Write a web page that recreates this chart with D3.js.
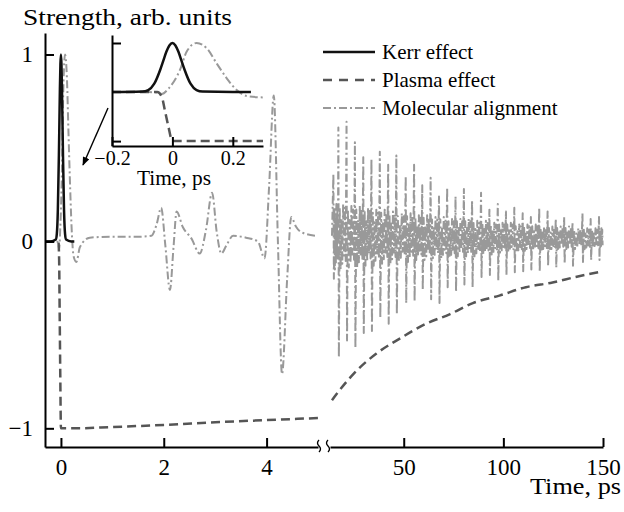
<!DOCTYPE html>
<html>
<head>
<meta charset="utf-8">
<script src="https://cdnjs.cloudflare.com/ajax/libs/d3/7.8.5/d3.min.js"></script>
<style>
  body { margin: 0; background: #fff; }
  svg { display: block; font-family: "Liberation Serif", "Times New Roman", serif; }
</style>
</head>
<body>
<script>
// series names for the legend
var seriesNames = ["Kerr effect", "Plasma effect", "Molecular alignment"];

// tick values
var xTicksLeft = [0, 2, 4];
var xTicksRight = [50, 100, 150];
var yTicks = [-1, 0, 1];
var insetXTicks = [-0.2, 0, 0.2];
var insetXLabels = ["\u22120.2", "0", "0.2"];
var insetYTicks = [-1, 1];

var kerrT = [-0.3, -0.2, -0.1, -0.08, -0.06, -0.04, -0.03, -0.02, -0.01, 0, 0.01, 0.02, 0.03, 0.04, 0.06, 0.08, 0.1, 0.2, 0.26];
var kerrV = [0, 0, 0.01, 0.04, 0.17, 0.46, 0.64, 0.82, 0.95, 1, 0.95, 0.82, 0.64, 0.46, 0.17, 0.04, 0.01, 0, 0];

// plasma effect, first 5 ps
var plasmaT = [-0.3, -0.2, -0.05, -0.035, -0.025, -0.013, 0, 0.3, 1, 2, 3, 4, 5];
var plasmaV = [0, 0, 0, -0.1, -0.37, -0.71, -1, -1, -0.993, -0.982, -0.968, -0.956, -0.945];
// plasma effect, 14-150 ps
var plasmaRT = [14, 16.3, 24.7, 36.3, 48, 61.3, 73, 84.7, 98, 111.3, 124.7, 136.3, 150];
var plasmaRV = [-0.85, -0.817, -0.71, -0.6, -0.52, -0.44, -0.39, -0.33, -0.29, -0.245, -0.22, -0.19, -0.16];

// molecular alignment, first 5 ps
var molT = [-0.3, -0.2, -0.08, -0.05, -0.035, -0.013, 0.025, 0.047, 0.08, 0.114, 0.147, 0.18, 0.213, 0.246, 0.3,
            0.37, 0.56, 1.0, 1.5, 1.76, 1.86, 1.95, 2.03, 2.12, 2.19, 2.25, 2.37, 2.54, 2.7, 2.82, 2.94, 3.03, 3.12, 3.22, 3.35,
            3.6, 3.83, 3.96, 4.05, 4.14, 4.22, 4.3, 4.4, 4.48, 4.57, 4.67, 4.96];
var molV = [0, 0, 0, -0.01, -0.04, 0.07, 0.45, 0.82, 1.0, 0.89, 0.58, 0.28, 0.04, -0.08, -0.11,
            -0.03, 0.02, 0.025, 0.025, 0.03, 0.09, 0.18, -0.02, -0.26, -0.03, 0.16, 0.077, 0.015, -0.065, 0.06, 0.26, 0.05, -0.065, -0.02, 0.03,
            0.02, 0, -0.09, 0.3, 0.78, 0, -0.71, -0.2, 0.13, 0.08, 0.05, 0.03];

// molecular alignment, 14-150 ps: revival spikes and the dense band between them
var revT  = [14.7, 17.2, 21.3, 25.5, 29.7, 33.8, 38, 42.2, 46.3, 51, 55.2, 59.3, 63.5, 67.7, 71.8, 76, 80.2,
             84.3, 88.8, 93, 97.2, 101.3, 105.5, 109.7, 113.8, 118, 122.2, 126.3, 130.5, 134.7, 139.7, 143.8, 148];
var revHi = [0.36, 0.61, 0.64, 0.53, 0.45, 0.44, 0.48, 0.41, 0.46, 0.35, 0.41, 0.3, 0.34, 0.24, 0.29, 0.24, 0.28,
             0.22, 0.26, 0.17, 0.2, 0.16, 0.18, 0.15, 0.13, 0.18, 0.16, 0.12, 0.13, 0.1, 0.15, 0.12, 0.13];
var revLo = [-0.2, -0.62, -0.53, -0.57, -0.49, -0.48, -0.41, -0.44, -0.39, -0.33, -0.32, -0.26, -0.31, -0.33, -0.245, -0.27, -0.23,
             -0.245, -0.19, -0.18, -0.21, -0.18, -0.165, -0.16, -0.15, -0.16, -0.13, -0.14, -0.12, -0.13, -0.11, -0.1, -0.1];
var bandHi = [0.2, 0.2, 0.19, 0.19, 0.18, 0.17, 0.17, 0.16, 0.15, 0.15, 0.14, 0.14, 0.13, 0.13, 0.12, 0.12, 0.12,
              0.11, 0.11, 0.1, 0.1, 0.1, 0.09, 0.09, 0.09, 0.08, 0.08, 0.08, 0.08, 0.07, 0.07, 0.07, 0.07];
var bandLo = [-0.15, -0.15, -0.14, -0.14, -0.13, -0.13, -0.12, -0.12, -0.11, -0.11, -0.1, -0.1, -0.09, -0.09, -0.09, -0.08, -0.08,
              -0.08, -0.07, -0.07, -0.06, -0.06, -0.06, -0.05, -0.05, -0.05, -0.05, -0.04, -0.04, -0.04, -0.04, -0.03, -0.03];
var wiggle = [0.9, 1, 0.6, 0.8, 1, 0.5, 0.9, 0.7];

var colors = {kerr: "#111", plasma: "#555", mol: "#999"};
var dashPlasma = "9,5", dashMol = "8,3,2,3";

function zip(T, V) { return T.map(function(t, i) { return [t, V[i]]; }); }

var svg = d3.select("body").append("svg")
    .attr("width", 624)
    .attr("height", 512);

// main scales: broken time axis
var xL = d3.scaleLinear().domain([-0.31, 5.0]).range([45, 318]);
var xR = d3.scaleLinear().domain([13, 150]).range([330, 603]);
var y = d3.scaleLinear().domain([-1.1, 1.115]).range([447, 33]);

// inset scales
var xIn = d3.scaleLinear().domain([-0.2, 0.3]).range([112, 263]);
var yIn = d3.scaleLinear().domain([-1.1, 1.163]).range([146, 35]);

var lineL = d3.line().x(function(d) { return xL(d[0]); }).y(function(d) { return y(d[1]); }).curve(d3.curveMonotoneX);
var lineR = d3.line().x(function(d) { return xR(d[0]); }).y(function(d) { return y(d[1]); }).curve(d3.curveMonotoneX);
var lineRlin = d3.line().x(function(d) { return xR(d[0]); }).y(function(d) { return y(d[1]); });
var lineIn = d3.line().x(function(d) { return xIn(d[0]); }).y(function(d) { return yIn(d[1]); }).curve(d3.curveMonotoneX);

// build the dense molecular trace after the break from the read values
var molR = [[14, 0.03]];
revT.forEach(function(t, i) {
  molR.push([t, revHi[i]]);
  molR.push([t + 0.25, revLo[i]]);
  var next = i < revT.length - 1 ? revT[i + 1] : 150;
  var n = wiggle.length, step = (next - t - 0.25) / (n + 1);
  for (var k = 1; k <= n; k++) {
    molR.push([t + 0.25 + k * step, (k % 2 ? bandHi[i] : bandLo[i]) * wiggle[k - 1]]);
  }
});

function draw(g, gen, data, color, width, dash) {
  g.append("path")
      .datum(data)
      .attr("d", gen)
      .attr("fill", "none")
      .attr("stroke", color)
      .attr("stroke-width", width)
      .attr("stroke-dasharray", dash || null)
      .attr("stroke-linejoin", "round");
}

var plot = svg.append("g");
draw(plot, lineL, zip(molT, molV), colors.mol, 2, dashMol);
draw(plot, lineRlin, molR, colors.mol, 2, dashMol);
draw(plot, lineL, zip(plasmaT, plasmaV), colors.plasma, 2.5, dashPlasma);
draw(plot, lineR, zip(plasmaRT, plasmaRV), colors.plasma, 2.5, dashPlasma);
draw(plot, lineL, zip(kerrT, kerrV), colors.kerr, 2.5);

// axes
function styleAxis(g, size) {
  g.selectAll("path.domain").attr("stroke", "#000").attr("stroke-width", 2);
  g.selectAll(".tick line").attr("stroke", "#000").attr("stroke-width", 2);
  g.selectAll(".tick text").attr("fill", "#000").attr("font-size", size)
      .attr("font-family", "Liberation Serif, Times New Roman, serif");
}

var fmt = d3.format("d");
svg.append("g").attr("transform", "translate(0,447)")
    .call(d3.axisBottom(xL).tickValues(xTicksLeft).tickSizeInner(-9).tickSizeOuter(0).tickPadding(12).tickFormat(fmt))
    .call(styleAxis, 23);
svg.append("g").attr("transform", "translate(0,447)")
    .call(d3.axisBottom(xR).tickValues(xTicksRight).tickSizeInner(-9).tickSizeOuter(0).tickPadding(12).tickFormat(fmt))
    .call(styleAxis, 23);
svg.append("g").attr("transform", "translate(45,0)")
    .call(d3.axisLeft(y).tickValues(yTicks).tickSizeInner(-9).tickSizeOuter(0).tickPadding(12).tickFormat(fmt))
    .call(styleAxis, 23);

// axis break marks
[319, 328].forEach(function(bx) {
  svg.append("path")
      .attr("d", "M" + bx + ",440 q-3,3 0,6 t0,6")
      .attr("fill", "none")
      .attr("stroke", "#000")
      .attr("stroke-width", 1.3);
});

// axis titles
svg.append("text").attr("x", 23).attr("y", 25)
    .attr("font-size", 23).attr("textLength", 209).attr("lengthAdjust", "spacingAndGlyphs")
    .text("Strength, arb. units");
svg.append("text").attr("x", 530).attr("y", 494)
    .attr("font-size", 23).attr("textLength", 91).attr("lengthAdjust", "spacingAndGlyphs")
    .text("Time, ps");

// inset
var inset = svg.append("g");
var inRange = function(d) { return d[0] >= -0.2 && d[0] <= 0.3; };
draw(inset, lineIn, zip(molT, molV).filter(inRange), colors.mol, 2, dashMol);
draw(inset, lineIn, zip(plasmaT, plasmaV).filter(inRange), colors.plasma, 2.5, dashPlasma);
draw(inset, lineIn, zip(kerrT, kerrV).filter(inRange), colors.kerr, 2.5);

svg.append("g").attr("transform", "translate(0,146)")
    .call(d3.axisBottom(xIn).tickValues(insetXTicks).tickSizeInner(-9).tickSizeOuter(0).tickPadding(5)
      .tickFormat(function(d, i) { return insetXLabels[i]; }))
    .call(styleAxis, 20);
svg.append("g").attr("transform", "translate(112,0)")
    .call(d3.axisLeft(yIn).tickValues(insetYTicks).tickSizeInner(-9).tickSizeOuter(0).tickFormat(""))
    .call(styleAxis, 20);
svg.append("text").attr("x", 137).attr("y", 185)
    .attr("font-size", 20).attr("textLength", 74).attr("lengthAdjust", "spacingAndGlyphs")
    .text("Time, ps");

// arrow from inset to the spike
svg.append("defs").append("marker")
    .attr("id", "arrow")
    .attr("viewBox", "0 0 10 8")
    .attr("refX", 9).attr("refY", 4)
    .attr("markerWidth", 9).attr("markerHeight", 7)
    .attr("markerUnits", "userSpaceOnUse")
    .attr("orient", "auto")
  .append("path").attr("d", "M0,0L10,4L0,8z").attr("fill", "#000");
svg.append("line")
    .attr("x1", 108).attr("y1", 108).attr("x2", 83).attr("y2", 165)
    .attr("stroke", "#000").attr("stroke-width", 1.4)
    .attr("marker-end", "url(#arrow)");

// legend
var legendStyles = [
  {color: colors.kerr, width: 2.5, dash: null},
  {color: colors.plasma, width: 2.5, dash: "9,7"},
  {color: colors.mol, width: 2.2, dash: dashMol}
];
var legend = svg.append("g").selectAll("g")
    .data(seriesNames)
    .enter().append("g")
    .attr("transform", function(d, i) { return "translate(323," + (52 + i * 28) + ")"; });
legend.append("line")
    .attr("x1", 0).attr("x2", 52)
    .attr("stroke", function(d, i) { return legendStyles[i].color; })
    .attr("stroke-width", function(d, i) { return legendStyles[i].width; })
    .attr("stroke-dasharray", function(d, i) { return legendStyles[i].dash; });
legend.append("text")
    .attr("x", 59).attr("y", 6.5)
    .attr("font-size", 21)
    .text(function(d) { return d; });
</script>
</body>
</html>
